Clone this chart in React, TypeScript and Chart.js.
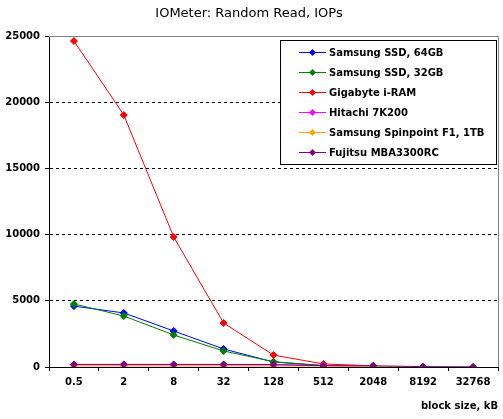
import React, { useEffect, useRef } from 'react';
import { Chart, registerables } from 'chart.js';

Chart.register(...registerables);

const categories = ['0.5', '2', '8', '32', '128', '512', '2048', '8192', '32768'];
const samsung64 = [4600, 4080, 2720, 1360, 380, 100, null, null, null];
const samsung32 = [4760, 3850, 2420, 1210, 400, 110, null, null, null];
const iram = [24620, 19030, 9820, 3320, 900, 230, 90, null, null];
const hitachi = [160, 160, 160, 160, 150, 110, 70, null, null];
const spinpoint = [80, 80, 80, 80, 75, 70, 50, 20, null];
const fujitsu = [195, 195, 195, 195, 185, 100, 90, 30, 15];

const seriesLabels = [
  'Samsung SSD, 64GB',
  'Samsung SSD, 32GB',
  'Gigabyte i-RAM',
  'Hitachi 7K200',
  'Samsung Spinpoint F1, 1TB',
  'Fujitsu MBA3300RC',
];
const seriesValues = [samsung64, samsung32, iram, hitachi, spinpoint, fujitsu];
const seriesColors = ['#0000FF', '#008000', '#FF0000', '#FF00FF', '#FFA500', '#800080'];

const yMax = 25000;
const yStep = 5000;
const titleText = 'IOMeter: Random Read, IOPs';
const xTitle = 'block size, kB';

const FONT = '"DejaVu Sans", Verdana, sans-serif';

const framePlugin = {
  id: 'frame',
  afterDraw(chart: any) {
    const { ctx, chartArea } = chart;
    const { left, right, top, bottom } = chartArea;
    ctx.save();
    ctx.strokeStyle = '#808080';
    ctx.lineWidth = 1;
    ctx.beginPath();
    ctx.moveTo(Math.round(left), Math.round(top) + 0.5);
    ctx.lineTo(Math.round(right) + 0.5, Math.round(top) + 0.5);
    ctx.lineTo(Math.round(right) + 0.5, Math.round(bottom));
    ctx.stroke();
    ctx.restore();
  },
};

const boxLegendPlugin = {
  id: 'boxLegend',
  afterDraw(chart: any) {
    const ctx = chart.ctx;
    const bx = 280.5, by = 40.5, bw = 216, bh = 124;
    ctx.save();
    ctx.fillStyle = '#ffffff';
    ctx.fillRect(bx, by, bw, bh);
    ctx.strokeStyle = '#000000';
    ctx.lineWidth = 1;
    ctx.strokeRect(bx, by, bw, bh);
    chart.data.datasets.forEach((ds: any, i: number) => {
      const y = 52 + i * 20;
      ctx.strokeStyle = ds.borderColor;
      ctx.lineWidth = 1;
      ctx.beginPath();
      ctx.moveTo(299, y + 0.5);
      ctx.lineTo(326, y + 0.5);
      ctx.stroke();
      const cx = 312.5, cy = y + 0.5, r = 3.5;
      ctx.fillStyle = ds.borderColor;
      ctx.beginPath();
      ctx.moveTo(cx, cy - r);
      ctx.lineTo(cx + r, cy);
      ctx.lineTo(cx, cy + r);
      ctx.lineTo(cx - r, cy);
      ctx.closePath();
      ctx.fill();
      ctx.fillStyle = '#000000';
      ctx.font = `bold 10px ${FONT}`;
      ctx.textBaseline = 'middle';
      ctx.textAlign = 'left';
      ctx.fillText(ds.label, 329, y + 1);
    });
    ctx.restore();
  },
};

export default function App() {
  const ref = useRef<HTMLCanvasElement | null>(null);

  useEffect(() => {
    if (!ref.current) return;
    const n = seriesLabels.length;
    const chart = new Chart(ref.current, {
      type: 'line',
      data: {
        labels: categories,
        datasets: seriesLabels.map((label, i) => ({
          label,
          data: seriesValues[i],
          borderColor: seriesColors[i],
          backgroundColor: seriesColors[i],
          borderWidth: 1,
          pointStyle: 'rectRot',
          pointRadius: 3.5,
          pointBorderWidth: 1,
          pointHoverRadius: 3.5,
          tension: 0,
          fill: false,
          order: n - i,
        })),
      },
      options: {
        responsive: false,
        animation: false,
        layout: { padding: { left: 0, right: 5, top: 0, bottom: 0 } },
        plugins: {
          legend: { display: false },
          tooltip: { enabled: false },
          title: {
            display: true,
            text: titleText,
            color: '#000',
            font: { family: FONT, size: 13, weight: 'normal' },
            padding: { top: 6, bottom: 14.4 },
          },
        },
        scales: {
          x: {
            type: 'category',
            offset: true,
            afterFit: (scale: any) => {
              scale.height = 52;
            },
            grid: {
              offset: true,
              drawOnChartArea: false,
              drawTicks: true,
              tickLength: 4,
              color: '#000',
              tickColor: '#000',
            },
            border: { display: true, color: '#000', width: 1 },
            ticks: {
              color: '#000',
              font: { family: FONT, size: 10, weight: 'bold' },
              padding: 5,
              maxRotation: 0,
              autoSkip: false,
            },
            title: {
              display: true,
              text: xTitle,
              align: 'end',
              color: '#000',
              font: { family: FONT, size: 10, weight: 'bold' },
              padding: { top: 0, bottom: 7 },
            },
          },
          y: {
            min: 0,
            max: yMax,
            afterFit: (scale: any) => {
              scale.width = 49;
            },
            grid: {
              color: (c: any) =>
                c.tick && (c.tick.value === 0 || c.tick.value === yMax) ? 'rgba(0,0,0,0)' : '#000',
              tickColor: '#000',
              tickLength: 4,
              lineWidth: 1,
            },
            border: { display: true, color: '#000', width: 1, dash: [3, 3] },
            ticks: {
              stepSize: yStep,
              color: '#000',
              font: { family: FONT, size: 10, weight: 'bold' },
              padding: 5,
              callback: (v: any) => String(v),
            },
          },
        },
      },
      plugins: [framePlugin, boxLegendPlugin],
    } as any);
    return () => chart.destroy();
  }, []);

  return (
    <div style={{ position: 'fixed', left: 0, top: 0, width: 503, height: 419, background: '#fff' }}>
      <canvas ref={ref} width={503} height={419} style={{ display: 'block' }} />
    </div>
  );
}
